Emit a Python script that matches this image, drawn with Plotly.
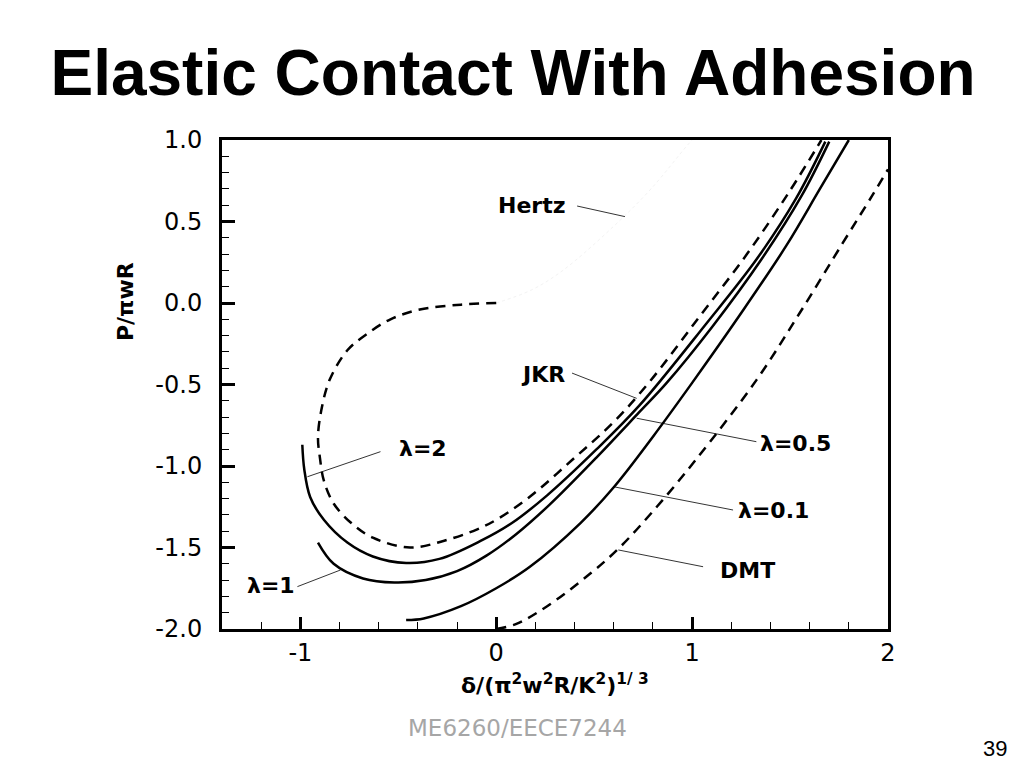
import plotly.graph_objects as go

# ---- data ----
jkr_x = [0.0, -0.18, -0.39, -0.54, -0.66, -0.76, -0.85, -0.89, -0.91, -0.90, -0.88, -0.83, -0.74,
         -0.63, -0.44, -0.27, -0.10, 0.0, 0.17, 0.39, 0.60, 0.785, 1.04, 1.28, 1.50, 1.66]
jkr_y = [0.0, -0.01, -0.04, -0.10, -0.19, -0.29, -0.47, -0.64, -0.82, -0.95, -1.09, -1.23, -1.35,
         -1.44, -1.50, -1.46, -1.39, -1.33, -1.19, -0.96, -0.73, -0.48, -0.08, 0.30, 0.69, 1.0]

lam2_x = [-0.99, -0.98, -0.95, -0.88, -0.76, -0.63, -0.46, -0.29, -0.08, 0.08, 0.26, 0.51, 0.73,
          1.07, 1.33, 1.53, 1.68]
lam2_y = [-0.87, -1.02, -1.19, -1.33, -1.47, -1.555, -1.595, -1.57, -1.46, -1.35, -1.18, -0.90,
          -0.63, -0.13, 0.27, 0.64, 0.99]

lam1_x = [-0.91, -0.83, -0.68, -0.52, -0.36, -0.2, -0.05, 0.10, 0.27, 0.51, 0.73, 0.87, 1.10,
          1.355, 1.56, 1.70]
lam1_y = [-1.47, -1.60, -1.69, -1.715, -1.70, -1.645, -1.55, -1.42, -1.24, -0.95, -0.67, -0.49,
          -0.15, 0.27, 0.66, 0.99]

lam01_x = [-0.46, -0.37, -0.18, 0.0, 0.17, 0.43, 0.60, 0.80, 1.0, 1.24, 1.48, 1.65, 1.80]
lam01_y = [-1.945, -1.935, -1.86, -1.75, -1.62, -1.35, -1.13, -0.82, -0.49, -0.08, 0.35, 0.695, 1.0]

dmt_x = [0.0, 0.1, 0.26, 0.48, 0.63, 0.82, 1.02, 1.33, 1.55, 1.77, 1.92, 2.0]
dmt_y = [-2.0, -1.97, -1.86, -1.66, -1.50, -1.25, -0.96, -0.47, -0.06, 0.37, 0.66, 0.82]

hertz_x = [0.0, 0.18, 0.34, 0.59, 0.79, 0.97, 1.0]
hertz_y = [0.0, 0.08, 0.20, 0.46, 0.70, 0.96, 1.0]

x_ticks = [-1, 0, 1, 2]
y_ticks = [1.0, 0.5, 0.0, -0.5, -1.0, -1.5, -2.0]

labels = ["Hertz", "JKR", "λ=0.5", "λ=0.1", "DMT", "λ=2", "λ=1"]
label_x = [0.183, 0.24, 1.528, 1.416, 1.284, -0.372, -1.151]
label_y = [0.60, -0.44, -0.86, -1.27, -1.644, -0.89, -1.736]
# pointer lines: (x0, y0, x1, y1)
pointers = [
    (0.413, 0.595, 0.657, 0.53),
    (0.387, -0.43, 0.717, -0.585),
    (0.717, -0.707, 1.328, -0.851),
    (0.598, -1.127, 1.209, -1.27),
    (0.623, -1.515, 1.056, -1.618),
    (-0.964, -1.066, -0.591, -0.912),
    (-0.795, -1.638, -1.015, -1.74),
]

FONT = "DejaVu Sans"
fig = go.Figure()

fig.add_trace(go.Scatter(x=hertz_x, y=hertz_y, mode="lines",
                         line=dict(color="#f3f3f3", width=1, dash="dot", shape="spline"),
                         showlegend=False, hoverinfo="skip"))

dash = "10px,7px"
for xs, ys, d in [(jkr_x, jkr_y, dash), (lam2_x, lam2_y, "solid"), (lam1_x, lam1_y, "solid"),
                  (lam01_x, lam01_y, "solid"), (dmt_x, dmt_y, dash)]:
    fig.add_trace(go.Scatter(x=xs, y=ys, mode="lines",
                             line=dict(color="black", width=2.5, dash=d, shape="spline", smoothing=1.0),
                             showlegend=False, hoverinfo="skip"))

for (x0, y0, x1, y1) in pointers:
    fig.add_shape(type="line", xref="x", yref="y", x0=x0, y0=y0, x1=x1, y1=y1,
                  line=dict(color="black", width=0.8))

for t, lx, ly in zip(labels, label_x, label_y):
    fig.add_annotation(x=lx, y=ly, xref="x", yref="y", text="<b>" + t + "</b>", showarrow=False,
                       xanchor="center", yanchor="middle",
                       font=dict(family=FONT, size=22, color="black"))

axis_common = dict(showline=True, linewidth=3, linecolor="black", mirror=True, automargin=False,
                   showgrid=False, zeroline=False, ticks="inside", tickcolor="black",
                   tickwidth=3, tickfont=dict(family=FONT, size=24, color="black"))

fig.update_xaxes(range=[-1.4, 2.0], tickvals=x_ticks, ticktext=[str(v) for v in x_ticks],
                 ticklen=12, ticklabelstandoff=0,
                 minor=dict(dtick=0.2, tick0=0, ticks="inside", ticklen=7, tickwidth=1.2,
                            tickcolor="black", showgrid=False),
                 **axis_common)
fig.update_yaxes(range=[-2.0, 1.0], tickvals=y_ticks, ticktext=[f"{v:.1f}" for v in y_ticks],
                 ticklen=13, ticklabelstandoff=12,
                 minor=dict(dtick=0.1, tick0=0, ticks="inside", ticklen=7, tickwidth=1.2,
                            tickcolor="black", showgrid=False),
                 **axis_common)

# axis titles and page texts (paper coords relative to plot area)
fig.add_annotation(xref="paper", yref="paper", x=-0.1456, y=0.6687, textangle=-90,
                   xanchor="center", yanchor="middle",
                   text="<b>P/πwR</b>", showarrow=False,
                   font=dict(family=FONT, size=22, color="black"))
fig.add_annotation(xref="paper", yref="paper", x=0.5, y=-0.1125, xanchor="center", yanchor="middle",
                   text="<b>δ/(π<sup>2</sup>w<sup>2</sup>R/K<sup>2</sup>)<sup>1/ 3</sup></b>",
                   showarrow=False, font=dict(family=FONT, size=22, color="black"))
fig.add_annotation(xref="paper", yref="paper", x=0.4444, y=-0.2025, text="ME6260/EECE7244",
                   xanchor="center", yanchor="middle",
                   showarrow=False, font=dict(family=FONT, size=23, color="#a6a6a6"))
fig.add_annotation(xref="paper", yref="paper", x=1.1607, y=-0.2434, text="39",
                   xanchor="center", yanchor="middle",
                   showarrow=False, font=dict(family="Liberation Sans", size=22, color="black"))

# page has an 8px body margin: figure is 1008x752 so the plot lands where it should
fig.update_layout(
    width=1008, height=752,
    margin=dict(l=214, r=128, t=132, b=131),
    paper_bgcolor="white", plot_bgcolor="white",
    title=dict(text="<b>Elastic Contact With Adhesion</b>", x=505 / 1008, xanchor="center",
               y=1 - 65 / 752, yanchor="middle",
               font=dict(family="Liberation Sans", size=64, color="black")),
)

fig.write_html("out.html")
